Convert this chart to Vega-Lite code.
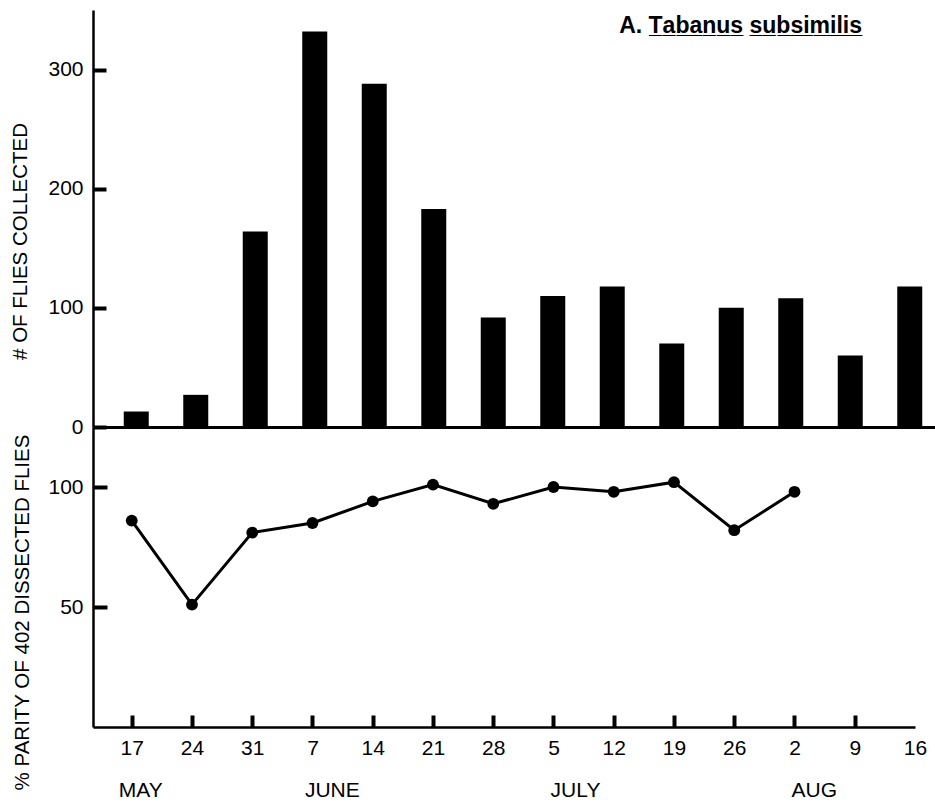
{
  "$schema": "https://vega.github.io/schema/vega-lite/v6.json",
  "background": "white",
  "padding": {"top": 10, "left": 10, "right": 0, "bottom": 0},
  "spacing": 0,
  "bounds": "flush",
  "config": {
    "font": "Liberation Sans",
    "view": {"stroke": null},
    "axis": {
      "labelFont": "Liberation Sans",
      "labelFontSize": 21,
      "labelColor": "black",
      "titleFont": "Liberation Sans",
      "titleColor": "black",
      "titleFontWeight": "normal",
      "domainColor": "black",
      "grid": false
    }
  },
  "datasets": {
    "counts": [
      {"date": "1980-05-17", "flies": 13},
      {"date": "1980-05-24", "flies": 27},
      {"date": "1980-05-31", "flies": 164},
      {"date": "1980-06-07", "flies": 332},
      {"date": "1980-06-14", "flies": 288},
      {"date": "1980-06-21", "flies": 183},
      {"date": "1980-06-28", "flies": 92},
      {"date": "1980-07-05", "flies": 110},
      {"date": "1980-07-12", "flies": 118},
      {"date": "1980-07-19", "flies": 70},
      {"date": "1980-07-26", "flies": 100},
      {"date": "1980-08-02", "flies": 108},
      {"date": "1980-08-09", "flies": 60},
      {"date": "1980-08-16", "flies": 118}
    ],
    "parity": [
      {"date": "1980-05-17", "parous": 86},
      {"date": "1980-05-24", "parous": 51},
      {"date": "1980-05-31", "parous": 81},
      {"date": "1980-06-07", "parous": 85},
      {"date": "1980-06-14", "parous": 94},
      {"date": "1980-06-21", "parous": 101},
      {"date": "1980-06-28", "parous": 93},
      {"date": "1980-07-05", "parous": 100},
      {"date": "1980-07-12", "parous": 98},
      {"date": "1980-07-19", "parous": 102},
      {"date": "1980-07-26", "parous": 82},
      {"date": "1980-08-02", "parous": 98}
    ]
  },
  "vconcat": [
    {
      "width": 843,
      "height": 417,
      "data": {"name": "counts"},
      "title": {
        "text": "A. T̲a̲b̲a̲n̲u̲s̲ s̲u̲b̲s̲i̲m̲i̲l̲i̲s̲",
        "anchor": "end",
        "orient": "top",
        "offset": -28,
        "dx": -74,
        "font": "Liberation Sans",
        "fontSize": 23,
        "fontWeight": "bold",
        "color": "black"
      },
      "mark": {"type": "bar", "width": 25, "color": "black"},
      "encoding": {
        "x": {
          "field": "date",
          "type": "temporal",
          "scale": {
            "type": "utc",
            "domain": [
              {"year": 1980, "month": 5, "date": 12, "hours": 12, "utc": true},
              {"year": 1980, "month": 8, "date": 18, "hours": 12, "utc": true}
            ]
          },
          "axis": {"domainWidth": 3, "ticks": false, "labels": false, "title": null}
        },
        "y": {
          "field": "flies",
          "type": "quantitative",
          "scale": {"domain": [0, 350], "nice": false},
          "axis": {
            "values": [0, 100, 200, 300],
            "ticks": true,
            "tickSize": -13,
            "tickWidth": 4,
            "tickColor": "black",
            "domainWidth": 2.5,
            "labelPadding": 23,
            "title": "# OF FLIES COLLECTED",
            "titleFontSize": 20.5,
            "titleBaseline": "middle",
            "titleX": -73,
            "titleY": 231
          }
        }
      }
    },
    {
      "width": 822,
      "height": 300,
      "data": {"name": "parity"},
      "layer": [
        {
          "mark": {"type": "line", "color": "black", "strokeWidth": 3},
          "encoding": {
            "x": {
              "field": "date",
              "type": "temporal",
              "scale": {
                "type": "utc",
                "domain": [
                  {"year": 1980, "month": 5, "date": 12, "hours": 12, "utc": true},
                  {"year": 1980, "month": 8, "date": 16, "utc": true}
                ]
              },
              "axis": {
                "orient": "bottom",
                "values": [
                  {"year": 1980, "month": 5, "date": 17, "utc": true},
                  {"year": 1980, "month": 5, "date": 24, "utc": true},
                  {"year": 1980, "month": 5, "date": 31, "utc": true},
                  {"year": 1980, "month": 6, "date": 7, "utc": true},
                  {"year": 1980, "month": 6, "date": 14, "utc": true},
                  {"year": 1980, "month": 6, "date": 21, "utc": true},
                  {"year": 1980, "month": 6, "date": 28, "utc": true},
                  {"year": 1980, "month": 7, "date": 5, "utc": true},
                  {"year": 1980, "month": 7, "date": 12, "utc": true},
                  {"year": 1980, "month": 7, "date": 19, "utc": true},
                  {"year": 1980, "month": 7, "date": 26, "utc": true},
                  {"year": 1980, "month": 8, "date": 2, "utc": true},
                  {"year": 1980, "month": 8, "date": 9, "utc": true},
                  {"year": 1980, "month": 8, "date": 16, "utc": true}
                ],
                "labelExpr": "utcFormat(datum.value, '%-d')",
                "ticks": true,
                "tickSize": -12,
                "tickWidth": 4,
                "tickColor": {
                  "condition": {"test": "utcmonth(datum.value) == 7 && utcdate(datum.value) == 16", "value": "white"},
                  "value": "black"
                },
                "domainWidth": 2.5,
                "labelPadding": 22,
                "labelFlush": false,
                "labelOverlap": false,
                "title": null
              }
            },
            "y": {
              "field": "parous",
              "type": "quantitative",
              "scale": {"domain": [0, 125], "nice": false},
              "axis": {
                "values": [50, 100],
                "ticks": true,
                "tickSize": -14,
                "tickWidth": 4,
                "tickColor": "black",
                "domainWidth": 2.5,
                "labelPadding": 24,
                "title": "% PARITY OF 402 DISSECTED FLIES",
                "titleFontSize": 20.5,
                "titleBaseline": "middle",
                "titleX": -71,
                "titleY": 185
              }
            }
          }
        },
        {
          "mark": {"type": "point", "filled": true, "size": 140, "color": "black", "opacity": 1},
          "encoding": {
            "x": {
              "field": "date",
              "type": "temporal",
              "axis": {
                "orient": "bottom",
                "values": [
                  {"year": 1980, "month": 5, "date": 18, "utc": true},
                  {"year": 1980, "month": 6, "date": 9, "hours": 6, "utc": true},
                  {"year": 1980, "month": 7, "date": 7, "hours": 12, "utc": true},
                  {"year": 1980, "month": 8, "date": 4, "hours": 6, "utc": true}
                ],
                "labelExpr": "['MAY', 'JUNE', 'JULY', 'AUG'][utcmonth(datum.value) - 4]",
                "domain": false,
                "ticks": false,
                "labelPadding": 52,
                "title": null
              }
            },
            "y": {"field": "parous", "type": "quantitative"}
          }
        }
      ],
      "resolve": {"axis": {"x": "independent"}}
    }
  ]
}
